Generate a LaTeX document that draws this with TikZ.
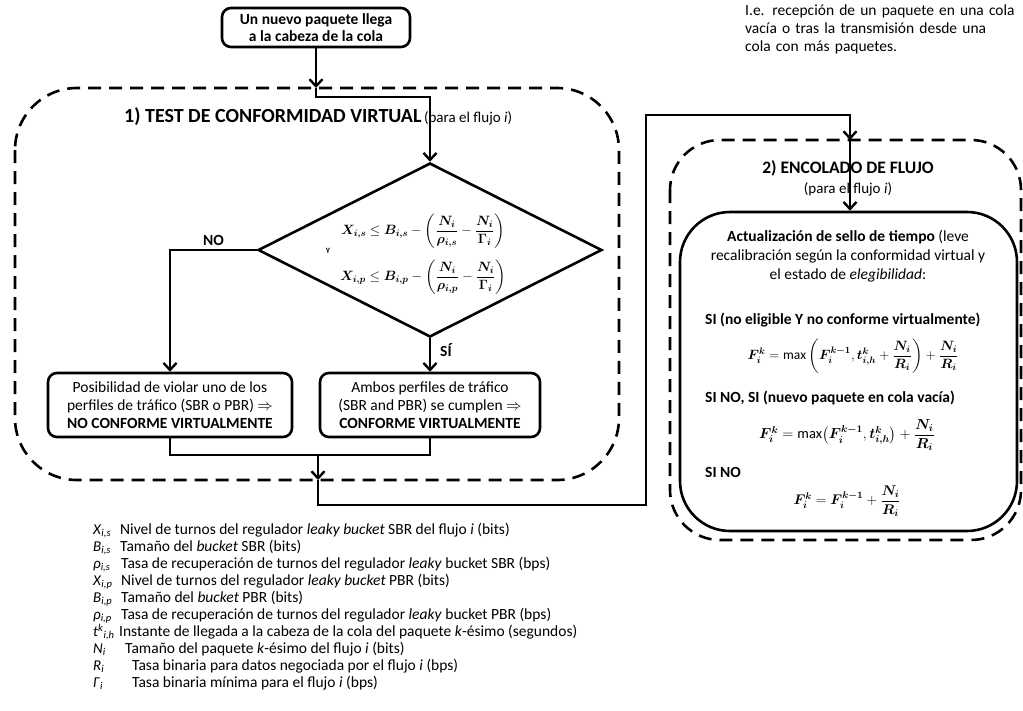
\RequirePackage{fix-cm}
\documentclass[tikz,border=0pt]{standalone}
\usepackage{amsmath,bm}
\usepackage{fontspec}
\setmainfont{Carlito}
\usetikzlibrary{arrows.meta,shapes.geometric}
\newcommand{\fs}[2]{\fontsize{#1}{#2}\selectfont}
\begin{document}
\begin{tikzpicture}[x=1pt,y=-1pt,
  every node/.style={font=\fs{15.5}{18}},
  ln/.style={line width=2.6pt, line join=miter},
  arr/.style={line width=2.6pt, -{Straight Barb[length=7pt,width=13pt,line width=2.4pt]}},
  dashbox/.style={line width=2.6pt, dash pattern=on 13pt off 8pt},
  rbox/.style={draw, line width=2.6pt, rounded corners=9pt, align=center, inner sep=0pt},
  lsym/.style={anchor=base west, inner sep=0pt, font=\fs{15}{16}},
  ltxt/.style={anchor=base west, inner sep=0pt, font=\fs{15.5}{16}},
  mth/.style={inner sep=0pt, font=\fs{13.5}{16}},
  lbl/.style={inner sep=0pt, font=\fs{15.5}{16}\bfseries}]
\useasboundingbox (0,0) rectangle (1023,710);

% top box
\node[rbox, minimum width=188pt, minimum height=39pt, font=\fs{15.5}{16.5}\bfseries] (start) at (316,27.5) {Un nuevo paquete llega\\a la cabeza de la cola};

% note
\node[anchor=north west, text width=263pt, inner sep=0pt, font=\fs{15.5}{18}] (note) at (745,5)
 {\makebox[263pt][s]{I.e. recepción de un paquete en una cola}\\
  \makebox[263pt][s]{vacía o tras la transmisión desde una}\\
  cola con más paquetes.};

% left dashed region
\draw[dashbox, rounded corners=62pt] (15,88) rectangle (619,480);
\node[anchor=base west, inner sep=0pt] (title1) at (124,122)
 {{\fs{20}{22}\bfseries 1) TEST DE CONFORMIDAD VIRTUAL}\,{\fs{15}{16}(para el flujo \textit{i})}};

% diamond
\node[draw, diamond, line width=2.6pt, minimum width=344pt, minimum height=174pt, inner sep=0pt] (dia) at (430,250) {};
\node[mth] (f1) at (423,231) {$\bm{X_{i,s}} \le \bm{B_{i,s}} - \left(\dfrac{\bm{N_i}}{\bm{\rho_{i,s}}} - \dfrac{\bm{N_i}}{\bm{\Gamma_i}}\right)$};
\node[mth] (f2) at (423,277) {$\bm{X_{i,p}} \le \bm{B_{i,p}} - \left(\dfrac{\bm{N_i}}{\bm{\rho_{i,p}}} - \dfrac{\bm{N_i}}{\bm{\Gamma_i}}\right)$};
\node[inner sep=0pt, font=\fs{8}{9}\bfseries] (y) at (328,251) {Y};

% result boxes
\node[rbox, minimum width=244pt, minimum height=64pt] (b1) at (170,405)
 {Posibilidad de violar uno de los\\perfiles de tráfico (SBR o PBR) $\Rightarrow$\\\textbf{NO CONFORME VIRTUALMENTE}};
\node[rbox, minimum width=220pt, minimum height=64pt] (b2) at (430,405)
 {Ambos perfiles de tráfico\\(SBR and PBR) se cumplen $\Rightarrow$\\\textbf{CONFORME VIRTUALMENTE}};

% right dashed region
\draw[dashbox, rounded corners=50pt] (670,140) rectangle (1021,540);
\node[inner sep=0pt, font=\fs{17.5}{18}\bfseries] (title2) at (848,168) {2) ENCOLADO DE FLUJO};
\node[inner sep=0pt, font=\fs{15}{16}] (title2b) at (848,189) {(para el flujo \textit{i})};

\node[draw, line width=2.6pt, rounded corners=50pt, minimum width=337pt, minimum height=319pt, inner sep=0pt] (b3) at (848.5,371.5) {};
\node[align=center, inner sep=0pt, font=\fs{15.5}{19}] (t1) at (848,256)
 {\textbf{Actualización de sello de tiempo} (leve\\recalibración según la conformidad virtual y\\el estado de \textit{elegibilidad}:};
\node[lbl, anchor=west] (s1) at (705,320) {SI (no eligible Y no conforme virtualmente)};
\node[mth] (F1) at (853,356) {$\bm{F_i^k} = \max\left(\bm{F_i^{k-1}}, \bm{t_{i,h}^k} + \dfrac{\bm{N_i}}{\bm{R_i}}\right) + \dfrac{\bm{N_i}}{\bm{R_i}}$};
\node[lbl, anchor=west] (s2) at (705,398) {SI NO, SI (nuevo paquete en cola vacía)};
\node[mth, font=\fs{14.5}{16}] (F2) at (847,435) {$\bm{F_i^k} = \max\bigl(\bm{F_i^{k-1}}, \bm{t_{i,h}^k}\bigr) + \dfrac{\bm{N_i}}{\bm{R_i}}$};
\node[lbl, anchor=west] (s3) at (705,472) {SI NO};
\node[mth, font=\fs{14}{16}] (F3) at (847,501) {$\bm{F_i^k} = \bm{F_i^{k-1}} + \dfrac{\bm{N_i}}{\bm{R_i}}$};

% coordinates
\coordinate (e1) at (316,88);
\coordinate (c1) at (316,97);
\coordinate (c2) at (430,97);
\coordinate (noC) at (170,250);
\coordinate (mL) at (170,455);
\coordinate (mR) at (430,455);
\coordinate (mC) at (318,455);
\coordinate (e2) at (318,480);
\coordinate (d1) at (318,505);
\coordinate (d2) at (646,505);
\coordinate (d3) at (646,115);
\coordinate (d4) at (850,115);
\coordinate (e3) at (850,140);

% connectors
\draw[arr] (start.south) -- (e1);
\draw[arr] (e1) -- (c1) -- (c2) -- (dia.north);
\draw[arr] (dia.west) -- (noC) -- (b1.north);
\draw[arr] (dia.south) -- (b2.north);
\node[lbl, anchor=west] (no) at (203,240) {NO};
\node[lbl, anchor=west] (si) at (440,350) {SÍ};
\draw[ln] (b1.south) -- (mL) -- (mR) -- (b2.south);
\draw[arr] (mC) -- (e2);
\draw[arr] (e2) -- (d1) -- (d2) -- (d3) -- (d4) -- (e3);
\draw[arr] (e3) -- (b3.north -| e3);

% legend
\node[lsym] (l1s) at (93,534.5) {\textit{X}\textsubscript{\textit{i,s}}};
\node[ltxt] (l1) at (120,534.5) {Nivel de turnos del regulador \textit{leaky bucket} SBR del flujo \textit{i} (bits)};
\node[lsym] (l2s) at (93,551.5) {\textit{B}\textsubscript{\textit{i,s}}};
\node[ltxt] (l2) at (120,551.5) {Tamaño del \textit{bucket} SBR (bits)};
\node[lsym] (l3s) at (93,568.5) {\textit{ρ}\textsubscript{\textit{i,s}}};
\node[ltxt] (l3) at (121,568.5) {Tasa de recuperación de turnos del regulador \textit{leaky} bucket SBR (bps)};
\node[lsym] (l4s) at (93,585.5) {\textit{X}\textsubscript{\textit{i,p}}};
\node[ltxt] (l4) at (121,585.5) {Nivel de turnos del regulador \textit{leaky bucket} PBR (bits)};
\node[lsym] (l5s) at (93,602.5) {\textit{B}\textsubscript{\textit{i,p}}};
\node[ltxt] (l5) at (121,602.5) {Tamaño del \textit{bucket} PBR (bits)};
\node[lsym] (l6s) at (93,619.5) {\textit{ρ}\textsubscript{\textit{i,p}}};
\node[ltxt] (l6) at (121,619.5) {Tasa de recuperación de turnos del regulador \textit{leaky} bucket PBR (bps)};
\node[lsym] (l7s) at (93,636.5) {\textit{t}\textsuperscript{\textit{k}}\textsubscript{\textit{i,h}}};
\node[ltxt] (l7) at (119,636.5) {Instante de llegada a la cabeza de la cola del paquete \textit{k}-ésimo (segundos)};
\node[lsym] (l8s) at (93,653.5) {\textit{N}\textsubscript{\textit{i}}};
\node[ltxt] (l8) at (125,653.5) {Tamaño del paquete \textit{k}-ésimo del flujo \textit{i} (bits)};
\node[lsym] (l9s) at (93,670.5) {\textit{R}\textsubscript{\textit{i}}};
\node[ltxt] (l9) at (132,670.5) {Tasa binaria para datos negociada por el flujo \textit{i} (bps)};
\node[lsym] (l10s) at (93,687.5) {\textit{Γ}\textsubscript{\textit{i}}};
\node[ltxt] (l10) at (132,687.5) {Tasa binaria mínima para el flujo \textit{i} (bps)};
\end{tikzpicture}
\end{document}
